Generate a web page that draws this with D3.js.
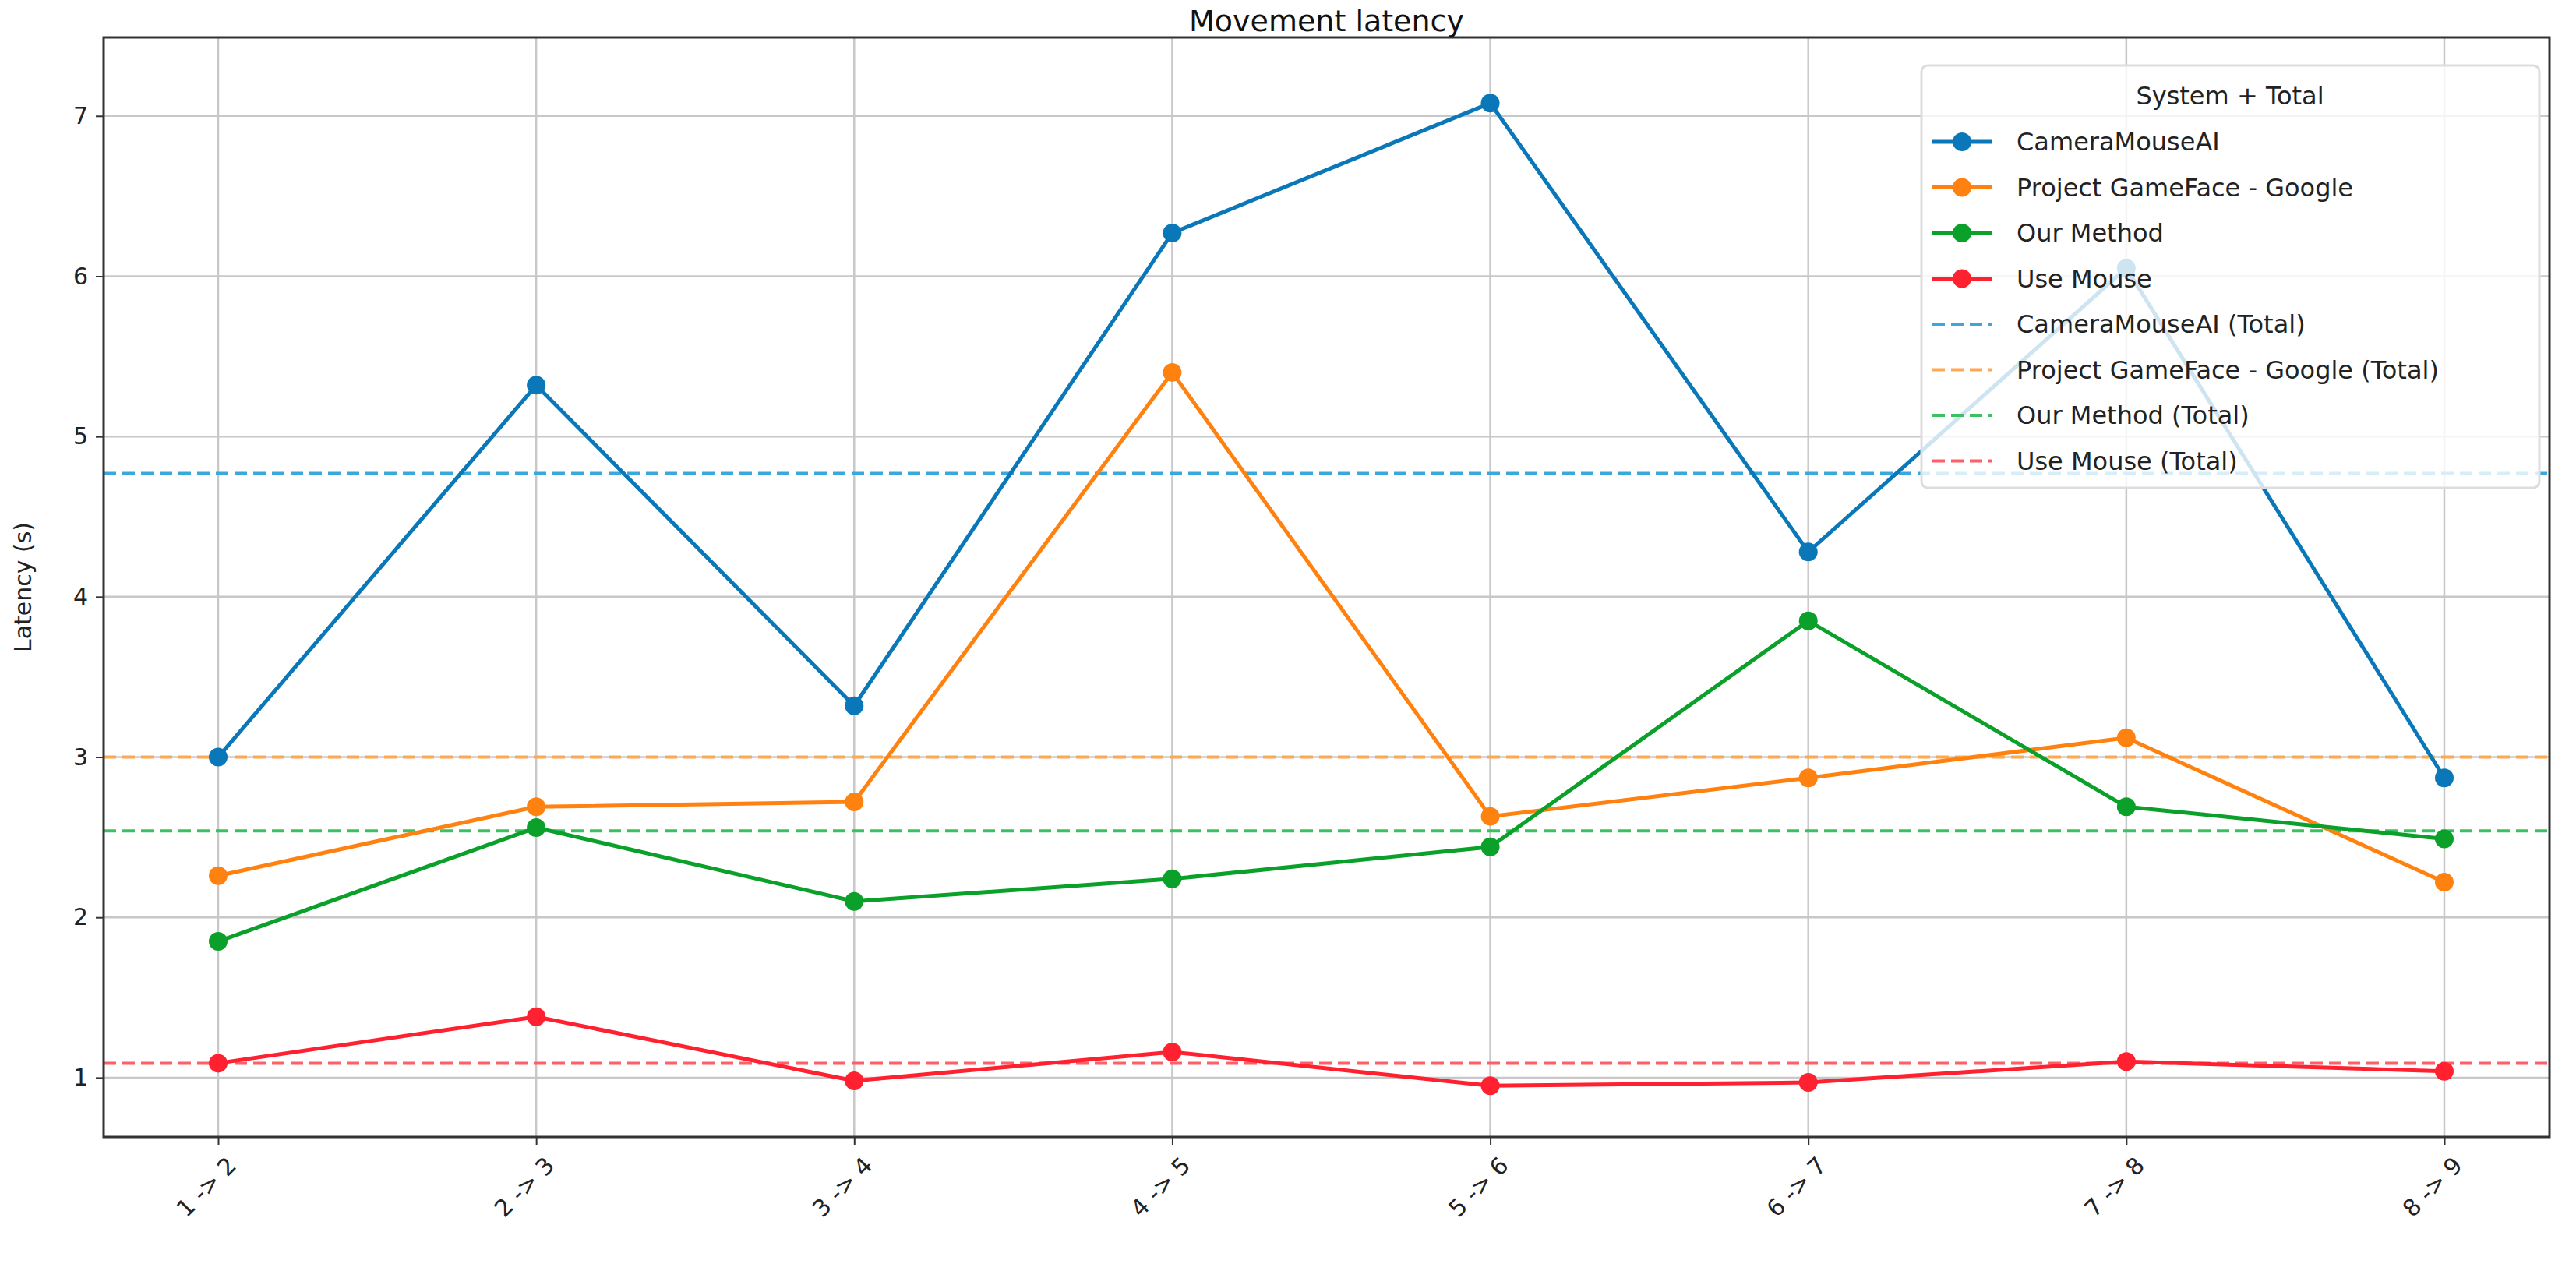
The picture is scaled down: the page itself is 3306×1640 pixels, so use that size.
<!DOCTYPE html>
<html><head><meta charset="utf-8">
<script src="https://cdn.jsdelivr.net/npm/d3@7"></script>
<style>body{margin:0;background:#fff}text{font-family:"DejaVu Sans",sans-serif}</style>
</head><body><svg id="c" width="3306" height="1640"></svg>
<script>
const categories=["1 -> 2","2 -> 3","3 -> 4","4 -> 5","5 -> 6","6 -> 7","7 -> 8","8 -> 9"];
const cameraMouse=[3.0,5.32,3.32,6.27,7.08,4.28,6.05,2.87];
const gameFace=[2.26,2.69,2.72,5.40,2.63,2.87,3.12,2.22];
const ourMethod=[1.85,2.56,2.10,2.24,2.44,3.85,2.69,2.49];
const useMouse=[1.09,1.38,0.98,1.16,0.95,0.97,1.10,1.04];
const totals=[4.77,3.0,2.54,1.09];
const seriesNames=["CameraMouseAI","Project GameFace - Google","Our Method","Use Mouse"];
const yTicks=[1,2,3,4,5,6,7];
const colors=["#0a78b8","#ff8210","#0aa02a","#ff2030"];
const totalColors=["#3aa8dc","#ffa850","#3cc060","#ff6068"];
const series=[cameraMouse,gameFace,ourMethod,useMouse];

const svg=d3.select("#c");
const L=133,R=3272,T=48,B=1459;
const x=d3.scalePoint().domain(categories).range([280,3137]);
const y=d3.scaleLinear().domain([0.63,7.49]).range([B,T]);

svg.append("g").selectAll("line").data(yTicks).join("line")
 .attr("x1",L).attr("x2",R).attr("y1",d=>y(d)).attr("y2",d=>y(d)).attr("stroke","#c8c8c8").attr("stroke-width",2.5);
svg.append("g").selectAll("line").data(categories).join("line")
 .attr("y1",T).attr("y2",B).attr("x1",d=>x(d)).attr("x2",d=>x(d)).attr("stroke","#c8c8c8").attr("stroke-width",2.5);

totals.forEach((t,i)=>{
 svg.append("line").attr("x1",L).attr("x2",R).attr("y1",y(t)).attr("y2",y(t))
  .attr("stroke",totalColors[i]).attr("stroke-width",4).attr("stroke-dasharray","16,8");
});
const line=d3.line().x((d,i)=>x(categories[i])).y(d=>y(d));
series.forEach((s,i)=>{
 svg.append("path").datum(s).attr("d",line).attr("fill","none").attr("stroke",colors[i]).attr("stroke-width",5);
 svg.append("g").selectAll("circle").data(s).join("circle")
  .attr("cx",(d,j)=>x(categories[j])).attr("cy",d=>y(d)).attr("r",12).attr("fill",colors[i]);
});

const ya=svg.append("g").attr("transform",`translate(${L},0)`).call(d3.axisLeft(y).tickValues(yTicks).tickFormat(d3.format("d")).tickSize(10).tickPadding(10));
ya.selectAll("text").attr("font-size",30).attr("fill","#222");
const xa=svg.append("g").attr("transform",`translate(0,${B})`).call(d3.axisBottom(x).tickSize(10));
xa.selectAll("text").attr("font-size",30).attr("fill","#222").attr("text-anchor","end")
 .attr("transform","translate(8,22) rotate(-45)").attr("dy","0.35em");
svg.selectAll(".domain").remove();
svg.selectAll(".tick line").attr("stroke","#333").attr("stroke-width",2);
svg.append("rect").attr("x",L).attr("y",T).attr("width",R-L).attr("height",B-T).attr("fill","none").attr("stroke","#333").attr("stroke-width",3);

svg.append("text").attr("x",(L+R)/2).attr("y",40).attr("text-anchor","middle").attr("font-size",38).attr("fill","#111").text("Movement latency");
svg.append("text").attr("transform",`translate(40,${(T+B)/2}) rotate(-90)`).attr("text-anchor","middle").attr("font-size",30).attr("fill","#222").text("Latency (s)");

const lg=svg.append("g");
lg.append("rect").attr("x",2466).attr("y",84).attr("width",793).attr("height",542).attr("rx",8)
 .attr("fill","rgba(255,255,255,0.8)").attr("stroke","#ddd").attr("stroke-width",3);
lg.append("text").attr("x",2862).attr("y",134).attr("text-anchor","middle").attr("font-size",32).attr("fill","#222").text("System + Total");
const items=seriesNames.map((n,i)=>({n,c:colors[i],dash:false})).concat(seriesNames.map((n,i)=>({n:n+" (Total)",c:totalColors[i],dash:true})));
items.forEach((it,i)=>{
 const yy=182+i*58.5;
 lg.append("line").attr("x1",2480).attr("x2",2556).attr("y1",yy).attr("y2",yy).attr("stroke",it.c).attr("stroke-width",it.dash?4:5).attr("stroke-dasharray",it.dash?"16,8":null);
 if(!it.dash) lg.append("circle").attr("cx",2518).attr("cy",yy).attr("r",12).attr("fill",it.c);
 lg.append("text").attr("x",2588).attr("y",yy+11).attr("font-size",32).attr("fill","#222").text(it.n);
});
</script></body></html>
